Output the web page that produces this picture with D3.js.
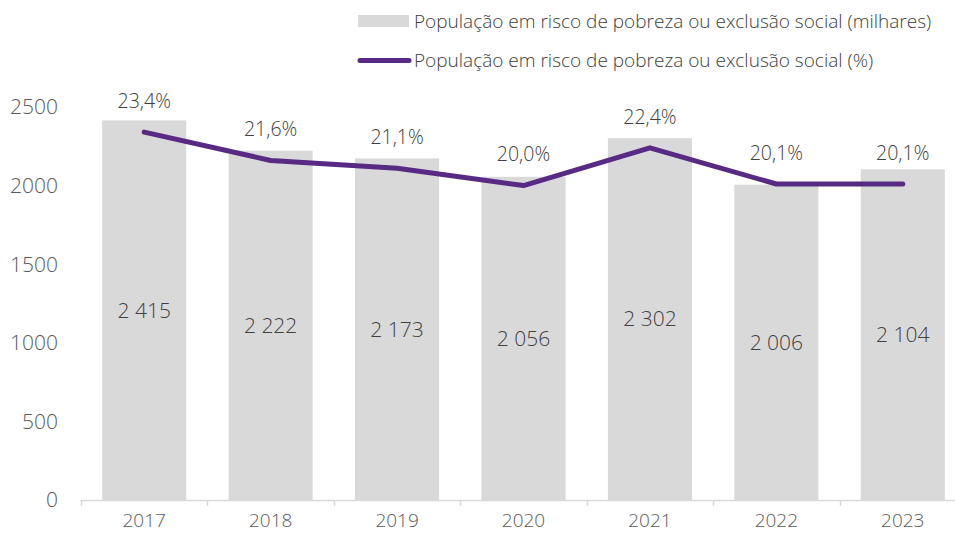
<!DOCTYPE html>
<html><head><meta charset="utf-8">
<script src="https://cdn.jsdelivr.net/npm/d3@7"></script>
<style>
html,body{margin:0;padding:0;background:#fff;}
svg text{font-family:"Open Sans","Noto Sans",sans-serif;font-weight:300;fill:#595959;}
svg text.dl{fill:#404040;}
</style></head>
<body><svg id="c" width="955" height="535"></svg>
<script>
const years = ["2017","2018","2019","2020","2021","2022","2023"];
const populationThousands = [2415,2222,2173,2056,2302,2006,2104];
const populationPercent = [23.4,21.6,21.1,20.0,22.4,20.1,20.1];
const yTicks = [0,500,1000,1500,2000,2500];
const legendLabels = ["População em risco de pobreza ou exclusão social (milhares)","População em risco de pobreza ou exclusão social (%)"];

const svg = d3.select("#c");
const x = d3.scaleBand().domain(years).range([81,966]).paddingInner(0.335).paddingOuter(0.1675);
const y = d3.scaleLinear().domain([0,2500]).range([500,107]);
const y2 = d3.scaleLinear().domain([0,25]).range([500,107]);
const fmt = v => d3.format(",")(v).replace(/,/g," ");
const pfmt = v => d3.format(".1f")(v).replace(".",",") + "%";

// y axis labels
svg.append("g").selectAll("text").data(yTicks).join("text")
  .attr("x",58).attr("y",d=>y(d)).attr("dy","0.35em")
  .attr("text-anchor","end").style("font-size","21px").text(d=>d);

// bars
svg.append("g").selectAll("rect").data(years).join("rect")
  .attr("x",d=>x(d)).attr("width",x.bandwidth())
  .attr("y",(d,i)=>y(populationThousands[i]))
  .attr("height",(d,i)=>y(0)-y(populationThousands[i]))
  .attr("fill","#d9d9d9");

// bar labels
svg.append("g").selectAll("text").data(years).join("text").attr("class","dl")
  .attr("x",d=>x(d)+x.bandwidth()/2)
  .attr("y",(d,i)=>(y(populationThousands[i])+y(0))/2).attr("dy","0.35em")
  .attr("text-anchor","middle").style("font-size","21px")
  .text((d,i)=>fmt(populationThousands[i]));

// x axis
const xa = svg.append("g");
xa.append("line").attr("x1",81).attr("x2",966).attr("y1",500.5).attr("y2",500.5)
  .attr("stroke","#d9d9d9").attr("stroke-width",1.5);
const edges = years.map(d=>x(d)-x.step()*x.paddingInner()/2).concat([966]);
xa.selectAll("line.t").data(edges).join("line").attr("class","t")
  .attr("x1",d=>Math.round(d)+0.5).attr("x2",d=>Math.round(d)+0.5)
  .attr("y1",500).attr("y2",506).attr("stroke","#d9d9d9").attr("stroke-width",1.5);
xa.selectAll("text").data(years).join("text")
  .attr("x",d=>x(d)+x.bandwidth()/2).attr("y",527)
  .attr("text-anchor","middle").style("font-size","19px").text(d=>d);

// line
const line = d3.line().x((d,i)=>x(years[i])+x.bandwidth()/2).y(d=>y2(d));
svg.append("path").datum(populationPercent).attr("d",line)
  .attr("fill","none").attr("stroke","#582a84").attr("stroke-width",5)
  .attr("stroke-linecap","round").attr("stroke-linejoin","round");

// percent labels
svg.append("g").selectAll("text").data(populationPercent).join("text").attr("class","dl")
  .attr("x",(d,i)=>x(years[i])+x.bandwidth()/2)
  .attr("y",d=>y2(d)-31).attr("dy","0.35em")
  .attr("text-anchor","middle").style("font-size","19.5px").text(d=>pfmt(d));

// legend
const lg = svg.append("g");
lg.append("rect").attr("x",358).attr("y",15).attr("width",51).attr("height",12).attr("fill","#d9d9d9");
lg.append("line").attr("x1",360).attr("x2",409).attr("y1",60.5).attr("y2",60.5)
  .attr("stroke","#582a84").attr("stroke-width",5).attr("stroke-linecap","round");
lg.selectAll("text").data(legendLabels).join("text").attr("class","dl")
  .attr("x",414).attr("y",(d,i)=>21+i*39).attr("dy","0.35em")
  .style("font-size","19px").text(d=>d);
</script></body></html>
